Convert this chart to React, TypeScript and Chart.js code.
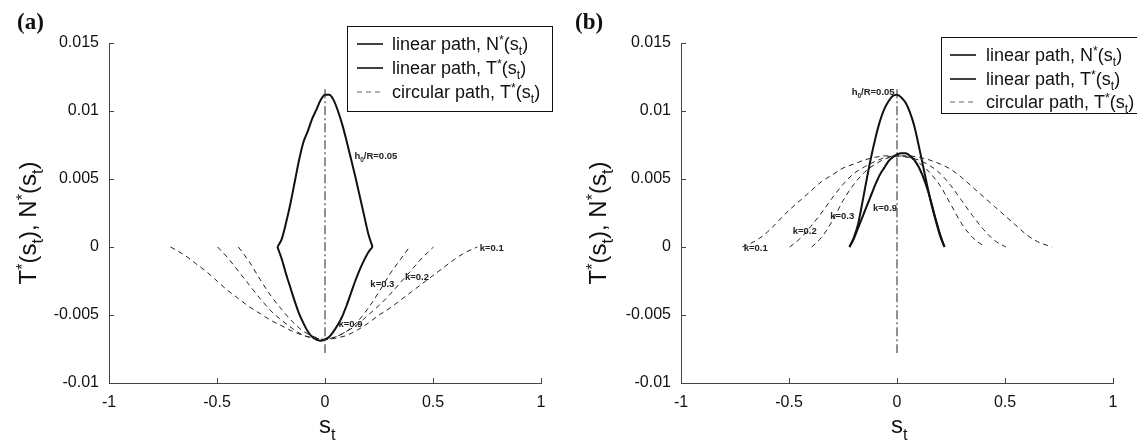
import { useEffect, useRef } from 'react';
import { Chart, registerables } from 'chart.js';

Chart.register(...registerables);

// ---------- axes ----------
const sTicks = [-1, -0.5, 0, 0.5, 1];
const sTickLabels = ['-1', '-0.5', '0', '0.5', '1'];
const forceTicks = [-0.01, -0.005, 0, 0.005, 0.01, 0.015];
const forceTickLabels = ['-0.01', '-0.005', '0', '0.005', '0.01', '0.015'];

// ---------- symmetry line at s_t = 0 ----------
const centerLineS = [0, 0];
const centerLineV = [0.0116, -0.0078];

// ---------- linear path, common s_t grid ----------
const linearS = [-0.22, -0.2, -0.18, -0.16, -0.14, -0.12, -0.1, -0.08, -0.06, -0.04, -0.02, 0,
  0.02, 0.04, 0.06, 0.08, 0.1, 0.12, 0.14, 0.16, 0.18, 0.2, 0.22];

// ---------- panel (a) ----------
const aLinearN = [0, 0.0006, 0.0018, 0.0032, 0.0048, 0.0064, 0.0077, 0.0085, 0.0094, 0.0101, 0.0108, 0.0112,
  0.0112, 0.0108, 0.01, 0.009, 0.0078, 0.0065, 0.0052, 0.0038, 0.0024, 0.001, 0];
const aLinearT = [0, -0.0009, -0.002, -0.003, -0.004, -0.0049, -0.0056, -0.0062, -0.0066, -0.0068, -0.0069, -0.0068,
  -0.0066, -0.0062, -0.0057, -0.0051, -0.0043, -0.0034, -0.0025, -0.0017, -0.001, -0.0004, 0];
const aCircK09 = [0, -0.0008, -0.0019, -0.003, -0.004, -0.0049, -0.0056, -0.0062, -0.0066, -0.0068, -0.0069, -0.0068,
  -0.0066, -0.0062, -0.0057, -0.005, -0.0042, -0.0034, -0.0025, -0.0017, -0.001, -0.0004, 0];

const aK01S = [-0.715, -0.65, -0.6, -0.55, -0.5, -0.45, -0.4, -0.35, -0.3, -0.25, -0.2, -0.15, -0.1, -0.05, 0,
  0.05, 0.1, 0.15, 0.2, 0.25, 0.3, 0.35, 0.4, 0.45, 0.5, 0.55, 0.6, 0.65, 0.705];
const aK01T = [0, -0.0006, -0.0012, -0.0018, -0.0025, -0.0032, -0.0038, -0.0044, -0.0049, -0.0054, -0.0058, -0.0062,
  -0.0065, -0.0067, -0.0068, -0.0067, -0.0065, -0.0061, -0.0056, -0.005, -0.0045, -0.0039, -0.0033, -0.0027, -0.0021,
  -0.0015, -0.0009, -0.0004, 0];

const aK02S = [-0.497, -0.45, -0.4, -0.35, -0.3, -0.25, -0.2, -0.15, -0.1, -0.05, 0, 0.05, 0.1, 0.15, 0.2, 0.25, 0.3,
  0.35, 0.4, 0.45, 0.502];
const aK02T = [0, -0.0008, -0.0018, -0.0028, -0.0038, -0.0047, -0.0054, -0.006, -0.0065, -0.0067, -0.0068, -0.0066,
  -0.0062, -0.0057, -0.005, -0.0043, -0.0035, -0.0026, -0.0017, -0.0008, 0];

const aK03S = [-0.401, -0.35, -0.3, -0.25, -0.2, -0.15, -0.1, -0.05, 0, 0.05, 0.1, 0.15, 0.2, 0.25, 0.3, 0.35, 0.391];
const aK03T = [0, -0.0011, -0.0024, -0.0036, -0.0046, -0.0055, -0.0062, -0.0066, -0.0068, -0.0066, -0.0062, -0.0055,
  -0.0045, -0.0033, -0.002, -0.0009, 0];

// ---------- panel (b) ----------
const bLinearN = [0, 0.0007, 0.0017, 0.0033, 0.005, 0.0066, 0.008, 0.0092, 0.0101, 0.0107, 0.0111, 0.0112,
  0.011, 0.0106, 0.0099, 0.0089, 0.0075, 0.006, 0.0045, 0.0031, 0.0019, 0.0008, 0];
const bLinearT = [0, 0.0006, 0.0014, 0.0022, 0.003, 0.0038, 0.0046, 0.0053, 0.0058, 0.0063, 0.0066, 0.0068,
  0.0069, 0.0069, 0.0067, 0.0064, 0.0059, 0.0052, 0.0043, 0.0032, 0.002, 0.0009, 0];
const bCircK09 = [0, 0.0006, 0.0014, 0.0023, 0.0031, 0.0039, 0.0046, 0.0053, 0.0058, 0.0063, 0.0066, 0.0068,
  0.0069, 0.0068, 0.0066, 0.0063, 0.0058, 0.0051, 0.0042, 0.0031, 0.002, 0.0009, 0];

const bK01S = [-0.716, -0.65, -0.6, -0.55, -0.5, -0.45, -0.4, -0.35, -0.3, -0.25, -0.2, -0.15, -0.1, -0.05, 0,
  0.05, 0.1, 0.15, 0.2, 0.25, 0.3, 0.35, 0.4, 0.45, 0.5, 0.55, 0.6, 0.65, 0.718];
const bK01T = [0, 0.0005, 0.0011, 0.0019, 0.0027, 0.0034, 0.0041, 0.0048, 0.0053, 0.0058, 0.0061, 0.0064, 0.0066,
  0.0067, 0.0067, 0.0067, 0.0066, 0.0064, 0.0061, 0.0057, 0.0051, 0.0044, 0.0037, 0.003, 0.0023, 0.0016, 0.0009,
  0.0004, 0];

const bK02S = [-0.497, -0.45, -0.4, -0.35, -0.3, -0.25, -0.2, -0.15, -0.1, -0.05, 0, 0.05, 0.1, 0.15, 0.2, 0.25, 0.3,
  0.35, 0.4, 0.45, 0.504];
const bK02T = [0, 0.0006, 0.0015, 0.0025, 0.0036, 0.0046, 0.0054, 0.0059, 0.0063, 0.0066, 0.0067, 0.0066, 0.0064,
  0.006, 0.0054, 0.0045, 0.0034, 0.0023, 0.0013, 0.0005, 0];

const bK03S = [-0.395, -0.35, -0.3, -0.25, -0.2, -0.15, -0.1, -0.05, 0, 0.05, 0.1, 0.15, 0.2, 0.25, 0.3, 0.35, 0.407];
const bK03T = [0, 0.0007, 0.0019, 0.0034, 0.0046, 0.0055, 0.0061, 0.0065, 0.0067, 0.0066, 0.0062, 0.0055, 0.0045,
  0.0031, 0.0017, 0.0007, 0];

// ---------- text ----------
const panelTags = ['(a)', '(b)'];
const legendNames = ['linear path, N', 'linear path, T', 'circular path, T'];
const kLabels = ['k=0.1', 'k=0.2', 'k=0.3', 'k=0.9'];

// ---------- drawing helpers ----------
const SANS = '"Liberation Sans", Arial, Helvetica, sans-serif';
const SERIF = '"Liberation Serif", "Times New Roman", serif';
const AXIS_COLOR = '#444';

type Seg = { t: string; k?: 'sup' | 'sub' };

const segFont = (size: number, weight: string, k?: string) =>
  `${weight} ${k ? Math.round(size * 0.68 * 10) / 10 : size}px ${SANS}`;

function richWidth(ctx: CanvasRenderingContext2D, segs: Seg[], size: number, weight: string) {
  let w = 0;
  for (const g of segs) {
    ctx.font = segFont(size, weight, g.k);
    w += ctx.measureText(g.t).width;
  }
  return w;
}

function drawRich(ctx: CanvasRenderingContext2D, segs: Seg[], x: number, y: number, size: number,
  weight = 'normal', align: 'left' | 'center' = 'left') {
  let cx = align === 'center' ? x - richWidth(ctx, segs, size, weight) / 2 : x;
  ctx.textBaseline = 'alphabetic';
  ctx.textAlign = 'left';
  for (const g of segs) {
    ctx.font = segFont(size, weight, g.k);
    const dy = g.k === 'sup' ? -size * 0.32 : g.k === 'sub' ? size * 0.3 : 0;
    ctx.fillText(g.t, cx, y + dy);
    cx += ctx.measureText(g.t).width;
  }
}

const starOf = (name: string): Seg[] => [
  { t: name }, { t: '*', k: 'sup' }, { t: '(s' }, { t: 't', k: 'sub' }, { t: ')' },
];

const yTitle: Seg[] = [
  { t: 'T' }, { t: '*', k: 'sup' }, { t: '(s' }, { t: 't', k: 'sub' }, { t: '), N' },
  { t: '*', k: 'sup' }, { t: '(s' }, { t: 't', k: 'sub' }, { t: ')' },
];
const xTitle: Seg[] = [{ t: 's' }, { t: 't', k: 'sub' }];
const hLabel: Seg[] = [{ t: 'h' }, { t: '0', k: 'sub' }, { t: '/R=0.05' }];

type CurveLabel = { segs: Seg[]; s: number; v: number };
type Decor = {
  tag: string;
  tagX: number;
  titleX: number;
  legend: { x: number; y: number; w: number; h: number; rows: number[]; line0: number; line1: number; text: number };
  labels: CurveLabel[];
};

const decorPlugin = {
  id: 'panelDecor',
  afterDraw(chart: any, _args: any, opts: Decor) {
    const ctx: CanvasRenderingContext2D = chart.ctx;
    const { left, right, top, bottom } = chart.chartArea;
    const xs = chart.scales.x;
    const ys = chart.scales.y;
    ctx.save();

    // inward tick marks
    ctx.strokeStyle = AXIS_COLOR;
    ctx.lineWidth = 1;
    ctx.setLineDash([]);
    ctx.beginPath();
    for (const v of sTicks) {
      const px = Math.round(xs.getPixelForValue(v)) + 0.5;
      ctx.moveTo(px, bottom);
      ctx.lineTo(px, bottom - 5);
    }
    for (const v of forceTicks) {
      const py = Math.round(ys.getPixelForValue(v)) + 0.5;
      ctx.moveTo(left, py);
      ctx.lineTo(left + 5, py);
    }
    ctx.stroke();

    // curve annotations
    ctx.fillStyle = '#222';
    for (const lab of opts.labels) {
      drawRich(ctx, lab.segs, xs.getPixelForValue(lab.s), ys.getPixelForValue(lab.v) + 3.5, 9.5, 'bold');
    }

    // axis titles
    ctx.fillStyle = '#111';
    drawRich(ctx, xTitle, (left + right) / 2 - 6, 433, 24);
    ctx.save();
    ctx.translate(opts.titleX, (top + bottom) / 2 + 10);
    ctx.rotate(-Math.PI / 2);
    drawRich(ctx, yTitle, 0, 0, 24, 'normal', 'center');
    ctx.restore();

    // panel tag
    ctx.font = `bold 23px ${SERIF}`;
    ctx.textAlign = 'left';
    ctx.textBaseline = 'alphabetic';
    ctx.fillText(opts.tag, opts.tagX, 29);

    // legend
    const L = opts.legend;
    ctx.fillStyle = '#fff';
    ctx.fillRect(L.x, L.y, L.w, L.h);
    ctx.strokeStyle = '#111';
    ctx.lineWidth = 1;
    ctx.strokeRect(L.x + 0.5, L.y + 0.5, L.w, L.h);
    legendNames.forEach((name, i) => {
      const ry = L.rows[i];
      ctx.beginPath();
      if (i < 2) {
        ctx.setLineDash([]);
        ctx.strokeStyle = '#111';
        ctx.lineWidth = 1.6;
      } else {
        ctx.setLineDash([5, 4]);
        ctx.strokeStyle = '#666';
        ctx.lineWidth = 1.2;
      }
      ctx.moveTo(L.line0, ry);
      ctx.lineTo(L.line1, ry);
      ctx.stroke();
      ctx.setLineDash([]);
      ctx.fillStyle = '#111';
      drawRich(ctx, starOf(name), L.text, ry + 6, 18);
    });

    ctx.restore();
  },
};

const pts = (xs: number[], ys: number[]) => xs.map((x, i) => ({ x, y: ys[i] }));

const dashed = (xs: number[], ys: number[], color = '#222', width = 1) => ({
  data: pts(xs, ys),
  borderColor: color,
  borderWidth: width,
  borderDash: [5, 4],
  pointRadius: 0,
  fill: false,
  cubicInterpolationMode: 'monotone',
});
const solid = (xs: number[], ys: number[]) => ({
  data: pts(xs, ys),
  borderColor: '#111',
  borderWidth: 2,
  pointRadius: 0,
  fill: false,
  cubicInterpolationMode: 'monotone',
});
const centerLine = () => ({
  data: pts(centerLineS, centerLineV),
  borderColor: '#222',
  borderWidth: 1,
  borderDash: [9, 3, 2, 3],
  pointRadius: 0,
  fill: false,
  tension: 0,
});

function makeConfig(datasets: any[], decor: Decor, padRight: number) {
  return {
    type: 'line',
    data: { datasets },
    plugins: [decorPlugin],
    options: {
      responsive: false,
      animation: false,
      events: [],
      layout: { padding: { left: 0, right: padRight, top: 43, bottom: 0 } },
      scales: {
        x: {
          type: 'linear',
          min: -1,
          max: 1,
          afterBuildTicks: (sc: any) => { sc.ticks = sTicks.map((value) => ({ value })); },
          afterFit: (sc: any) => { sc.height = 62; },
          ticks: {
            callback: (_v: any, i: number) => sTickLabels[i],
            font: { family: SANS, size: 16 },
            color: '#111',
            padding: 10,
            maxRotation: 0,
            autoSkip: false,
          },
          grid: { display: false, drawTicks: false },
          border: { display: true, color: AXIS_COLOR, width: 1 },
        },
        y: {
          type: 'linear',
          min: -0.01,
          max: 0.015,
          afterBuildTicks: (sc: any) => { sc.ticks = forceTicks.map((value) => ({ value })); },
          afterFit: (sc: any) => { sc.width = 109; },
          ticks: {
            callback: (_v: any, i: number) => forceTickLabels[i],
            font: { family: SANS, size: 16 },
            color: '#111',
            padding: 10,
          },
          grid: { display: false, drawTicks: false },
          border: { display: true, color: AXIS_COLOR, width: 1 },
        },
      },
      plugins: {
        legend: { display: false },
        tooltip: { enabled: false },
        panelDecor: decor,
      },
    },
  };
}

const k = (i: number): Seg[] => [{ t: kLabels[i] }];

const configA = makeConfig(
  [
    centerLine(),
    dashed(aK01S, aK01T),
    dashed(aK02S, aK02T),
    dashed(aK03S, aK03T),
    solid(linearS, aLinearN),
    solid(linearS, aLinearT),
    dashed(linearS, aCircK09, '#888', 1),
  ],
  {
    tag: panelTags[0],
    tagX: 17,
    titleX: 36,
    legend: { x: 347, y: 26, w: 205, h: 85, rows: [44, 68, 92], line0: 357, line1: 383, text: 392 },
    labels: [
      { segs: hLabel, s: 0.136, v: 0.0067 },
      { segs: k(0), s: 0.716, v: 0 },
      { segs: k(1), s: 0.37, v: -0.00216 },
      { segs: k(2), s: 0.21, v: -0.00265 },
      { segs: k(3), s: 0.062, v: -0.0056 },
    ],
  },
  31,
);

const configB = makeConfig(
  [
    centerLine(),
    dashed(bK01S, bK01T),
    dashed(bK02S, bK02T),
    dashed(bK03S, bK03T),
    solid(linearS, bLinearN),
    solid(linearS, bLinearT),
    dashed(linearS, bCircK09, '#888', 1),
  ],
  {
    tag: panelTags[1],
    tagX: 3,
    titleX: 34,
    legend: { x: 369, y: 37, w: 205, h: 76, rows: [55, 79, 102], line0: 378, line1: 404, text: 414 },
    labels: [
      { segs: hLabel, s: -0.21, v: 0.01144 },
      { segs: k(0), s: -0.71, v: 0 },
      { segs: k(1), s: -0.483, v: 0.00122 },
      { segs: k(2), s: -0.309, v: 0.00232 },
      { segs: k(3), s: -0.111, v: 0.00287 },
    ],
  },
  24,
);

function Panel({ config, left, width }: { config: any; left: number; width: number }) {
  const ref = useRef<HTMLCanvasElement | null>(null);
  useEffect(() => {
    if (!ref.current) return;
    const chart = new Chart(ref.current, config);
    return () => chart.destroy();
  }, [config]);
  return (
    <canvas
      ref={ref}
      width={width}
      height={445}
      style={{ position: 'absolute', left, top: 0, width, height: 445, display: 'block' }}
    />
  );
}

export default function App() {
  return (
    <div style={{ position: 'fixed', left: 0, top: 0, width: 1137, height: 445, background: '#fff', overflow: 'hidden' }}>
      <Panel config={configA} left={0} width={572} />
      <Panel config={configB} left={572} width={565} />
    </div>
  );
}
